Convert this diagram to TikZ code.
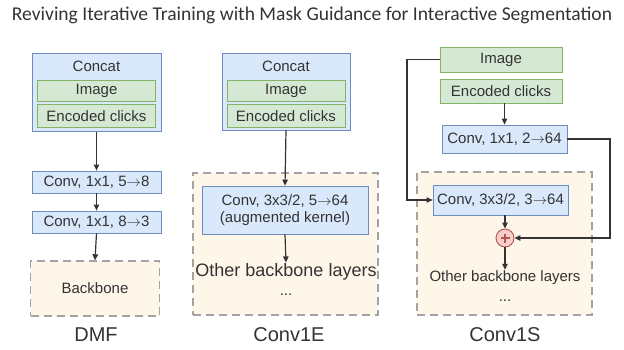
\documentclass[tikz,border=0pt]{standalone}
\usepackage{fontspec}
\setmainfont{Liberation Sans}
\newfontfamily\titlefont{Carlito}
\usetikzlibrary{arrows.meta}
\definecolor{bfill}{HTML}{DAE8FC}
\definecolor{bdraw}{HTML}{6C8EBF}
\definecolor{gfill}{HTML}{D5E8D4}
\definecolor{gdraw}{HTML}{82B366}
\definecolor{dfill}{HTML}{FDF6E9}
\definecolor{ddraw}{HTML}{A3A3A3}
\definecolor{pfill}{HTML}{F8CECC}
\definecolor{pdraw}{HTML}{B85450}
\definecolor{txt}{HTML}{333333}
\newcommand{\rarr}{$\rightarrow$}
\begin{document}
\begin{tikzpicture}[x=1pt,y=-1pt,
  box/.style={rectangle, inner sep=0pt, line width=0.8pt, text=txt, font=\fontsize{15}{17}\selectfont},
  bluebox/.style={box, draw=bdraw, fill=bfill},
  greenbox/.style={box, draw=gdraw, fill=gfill},
  dashbox/.style={rectangle, draw=ddraw, fill=dfill, dash pattern=on 8pt off 5pt, line width=1.4pt, inner sep=0pt},
  conn/.style={draw=txt, line width=1.2pt, -{Triangle[length=6pt,width=5.5pt]}},
  plain/.style={text=txt, inner sep=1pt, font=\fontsize{15}{17}\selectfont},
  lbl/.style={text=txt, inner sep=0pt, font=\fontsize{20}{24}\selectfont}]
\useasboundingbox (0,0) rectangle (624,350);

\node[text=txt, inner sep=0pt] (title) at (312,15) {\titlefont\resizebox{600pt}{!}{Reviving Iterative Training with Mask Guidance for Interactive Segmentation}};

% ---------------- DMF
\node[bluebox, minimum width=129pt, minimum height=78pt] (concatD) at (96.5,92.5) {};
\node[plain] (concatDt) at (96.5,66) {Concat};
\node[greenbox, minimum width=118pt, minimum height=21pt] (imgD) at (96.5,91) {Image};
\node[greenbox, minimum width=118pt, minimum height=23pt] (encD) at (96.5,116) {Encoded clicks};
\node[bluebox, minimum width=129pt, minimum height=22pt] (conv1D) at (96.5,182) {Conv, 1x1, 5\rarr8};
\node[bluebox, minimum width=129pt, minimum height=22pt] (conv2D) at (96.5,222) {Conv, 1x1, 8\rarr3};
\node[dashbox, minimum width=129pt, minimum height=55pt, text=txt, font=\fontsize{15}{17}\selectfont] (backD) at (95,288.5) {Backbone};
\node[lbl] (labD) at (96,335) {DMF};
\draw[conn] (concatD.south) -- (conv1D.north);
\draw[conn] (conv1D.south) -- (conv2D.north);
\draw[conn] (conv2D.south) -- (backD.north);

% ---------------- Conv1E
\node[bluebox, minimum width=128pt, minimum height=77pt] (concatE) at (286,91.5) {};
\node[plain] (concatEt) at (286,66) {Concat};
\node[greenbox, minimum width=118pt, minimum height=21pt] (imgE) at (286,91) {Image};
\node[greenbox, minimum width=118pt, minimum height=23pt] (encE) at (286,116) {Encoded clicks};
\node[dashbox, minimum width=185pt, minimum height=142pt] (dashE) at (285.5,244) {};
\node[bluebox, minimum width=166pt, minimum height=48pt, align=center] (convE) at (285,210) {Conv, 3x3/2, 5\rarr64\\(augmented kernel)};
\node[text=txt, inner sep=1pt, font=\fontsize{18}{20}\selectfont] (otherE) at (286,272) {Other backbone layers};
\node[plain] (dotsE) at (286,295) {...};
\node[lbl] (labE) at (289,335) {Conv1E};
\draw[conn] (concatE.south) -- (convE.north);
\draw[conn] (convE.south) -- (otherE.north);

% ---------------- Conv1S
\node[dashbox, minimum width=175pt, minimum height=143pt] (dashS) at (504.5,243.5) {};
\node[greenbox, minimum width=122pt, minimum height=25pt] (imgS) at (501,59.5) {Image};
\node[greenbox, minimum width=122pt, minimum height=24pt] (encS) at (501,91) {Encoded clicks};
\node[bluebox, minimum width=125pt, minimum height=28pt] (c11S) at (504.5,139) {Conv, 1x1, 2\rarr64};
\node[bluebox, minimum width=135pt, minimum height=30pt] (c33S) at (500.5,200) {Conv, 3x3/2, 3\rarr64};
\node[circle, draw=pdraw, fill=pfill, line width=0.9pt, minimum size=18pt, inner sep=0pt,
  path picture={\draw[pdraw, line width=1.3pt] ([xshift=-4.5pt]path picture bounding box.center) -- ([xshift=4.5pt]path picture bounding box.center)
  ([yshift=-4.5pt]path picture bounding box.center) -- ([yshift=4.5pt]path picture bounding box.center);}] (plus) at (505,238) {};
\node[plain] (otherS) at (505,278) {Other backbone layers};
\node[plain] (dotsS) at (505,301) {...};
\node[lbl] (labS) at (505,335) {Conv1S};
\coordinate (kL) at (407,59.5);
\coordinate (kR) at (610,139);
\draw[conn] (c11S.north |- encS.south) -- (c11S.north);
\draw[conn] (imgS.west) -- (kL) |- (c33S.west);
\draw[conn] (c11S.east) -- (kR) |- (plus.east);
\draw[conn] (plus.north |- c33S.south) -- (plus.north);
\draw[conn] (plus.south) -- (otherS.north);
\end{tikzpicture}
\end{document}
